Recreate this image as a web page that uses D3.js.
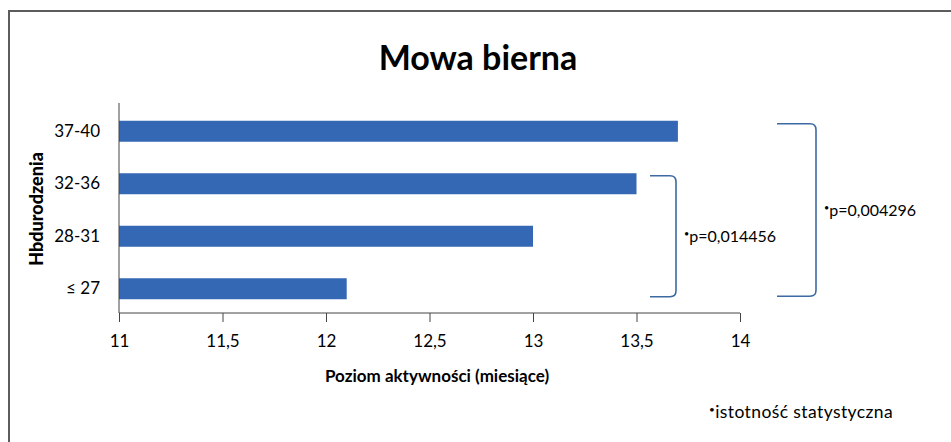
<!DOCTYPE html>
<html>
<head>
<meta charset="utf-8">
<script src="https://cdn.jsdelivr.net/npm/d3@7"></script>
<style>
  body { margin: 0; background: #fff; }
  svg text { font-family: "Lato", "Open Sans", sans-serif; fill: #000; }
  .axis path, .axis line { stroke: #444; }
</style>
</head>
<body>
<svg id="chart" width="951" height="442"></svg>
<script>
var categories = ["37-40", "32-36", "28-31", "\u2264 27"];
var values = [13.7, 13.5, 13.0, 12.1];
var xTicks = [11, 11.5, 12, 12.5, 13, 13.5, 14];
var brackets = [
  { from: "32-36", to: "\u2264 27", label: "p=0,014456" },
  { from: "37-40", to: "\u2264 27", label: "p=0,004296" }
];

var svg = d3.select("#chart"),
  WIDTH = 951, HEIGHT = 442,
  AXIS_TOP = 103, AXIS_Y = 313,
  xScale = d3.scaleLinear().domain([11, 14]).range([119, 740]),
  yScale = d3.scaleBand().domain(categories).range([105, 315]).paddingInner(0.6).paddingOuter(0.3),
  blue = "#3467b4";

// frame
svg.append("path")
  .attr("d", "M9," + HEIGHT + "V11H" + WIDTH)
  .attr("fill", "none")
  .attr("stroke", "#5c5c5c")
  .attr("stroke-width", 2);

svg.append("text")
  .attr("x", 478).attr("y", 70)
  .attr("text-anchor", "middle")
  .style("font-size", "34px").style("font-weight", "bold")
  .text("Mowa bierna");

svg.selectAll("rect.bar")
  .data(values)
  .enter().append("rect")
  .attr("class", "bar")
  .attr("x", xScale(11))
  .attr("y", function (d, i) { return yScale(categories[i]); })
  .attr("width", function (d) { return xScale(d) - xScale(11); })
  .attr("height", yScale.bandwidth())
  .attr("fill", blue);

var xAxis = d3.axisBottom(xScale).tickValues(xTicks).tickSize(9)
  .tickFormat(function (d) { return String(d).replace(".", ","); });
svg.append("g")
  .attr("class", "axis")
  .attr("transform", "translate(0," + AXIS_Y + ")")
  .call(xAxis)
  .call(function (g) {
    g.select(".domain").attr("d", "M" + xScale(11) + ",0H" + xScale(14));
    g.selectAll("text").attr("y", 22).style("font-size", "17px");
  });

var yAxis = d3.axisLeft(yScale).tickSize(0).tickPadding(19);
svg.append("g")
  .attr("class", "axis")
  .attr("transform", "translate(" + xScale(11) + ",0)")
  .call(yAxis)
  .call(function (g) {
    g.select(".domain").attr("d", "M0," + AXIS_TOP + "V" + AXIS_Y);
    g.selectAll("text").style("font-size", "17px");
  });

svg.append("text")
  .attr("x", 437).attr("y", 382)
  .attr("text-anchor", "middle")
  .style("font-size", "17px").style("font-weight", "bold")
  .text("Poziom aktywno\u015bci (miesi\u0105ce)");

svg.append("text")
  .attr("transform", "translate(43,209) rotate(-90)")
  .attr("text-anchor", "middle")
  .style("font-size", "18px").style("font-weight", "900")
  .text("Hbdurodzenia");

// significance brackets
var bx = [[650, 676], [777, 816]];
brackets.forEach(function (b, i) {
  var y0 = yScale(b.from) + yScale.bandwidth() / 2 - 8,
    y1 = yScale(b.to) + yScale.bandwidth() / 2 + 8,
    x0 = bx[i][0], x1 = bx[i][1];
  if (i === 1) { y0 = yScale(b.from) + 3; y1 = yScale(b.to) + yScale.bandwidth() - 3; }
  svg.append("path")
    .attr("d", "M" + x0 + "," + y0 + "H" + (x1 - 6) + "Q" + x1 + "," + y0 + " " + x1 + "," + (y0 + 6) +
      "V" + (y1 - 6) + "Q" + x1 + "," + y1 + " " + (x1 - 6) + "," + y1 + "H" + x0)
    .attr("fill", "none")
    .attr("stroke", "#3d6aa3")
    .attr("stroke-width", 1.6);
  var t = svg.append("text")
    .attr("x", x1 + 8).attr("y", (y0 + y1) / 2 + 6)
    .style("font-size", "16px");
  t.append("tspan").attr("dy", -5).style("font-size", "9px").text("\u2022");
  t.append("tspan").attr("dy", 5).text(b.label);
});

var foot = svg.append("text").attr("x", 709).attr("y", 418).style("font-size", "17.5px").style("letter-spacing", "0.4px");
foot.append("tspan").attr("dy", -5).style("font-size", "10px").text("\u2022");
foot.append("tspan").attr("dy", 5).text("istotno\u015b\u0107 statystyczna");
</script>
</body>
</html>
